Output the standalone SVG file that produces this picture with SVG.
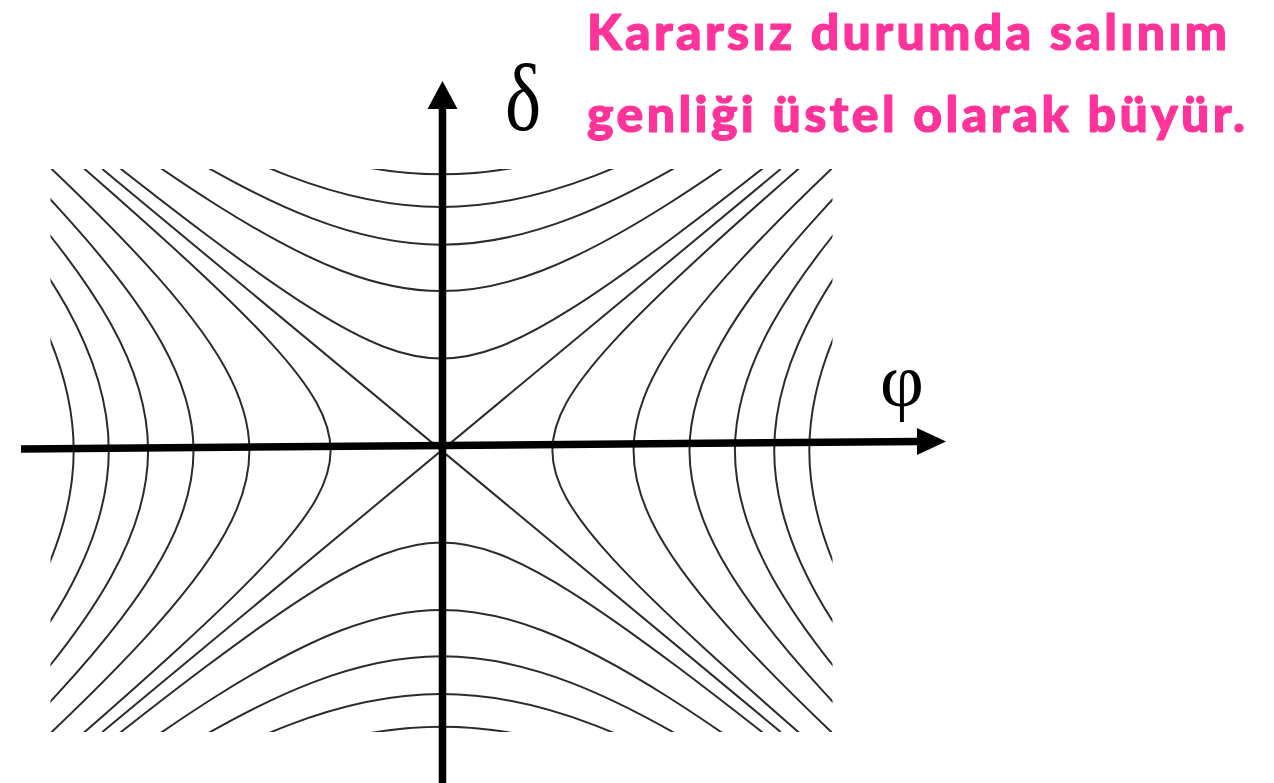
<svg xmlns="http://www.w3.org/2000/svg" xmlns:xlink="http://www.w3.org/1999/xlink" width="1274" height="783" viewBox="0 0 1274 783">
  <style>
    .crv { fill: none; stroke: #2b2b2b; stroke-width: 2; }
    .axis { stroke: #000; stroke-width: 7.5; fill: none; }
    .head { fill: #000; }
    .greek { font-family: "Liberation Serif", "DejaVu Serif", serif; fill: #000; }
    .note { font-family: "Lato", "Open Sans", sans-serif; font-weight: 900; font-size: 50px; fill: #ff3399; stroke: #ff3399; stroke-width: 1.2; stroke-linejoin: round; }
  </style>
  <defs>
    <path id="h" vector-effect="non-scaling-stroke" d="M6.132289,-6.050204 C5.123922,-5.028156 4.366673,-4.253893 3.762196,-3.626860 C3.157719,-2.999827 2.707290,-2.521347 2.352410,-2.129279 C1.997530,-1.737211 1.738948,-1.432381 1.543081,-1.175201 C1.347214,-0.918021 1.214475,-0.709033 1.127626,-0.521095 C1.040777,-0.333157 1,-0.166667 1,0 C1,0.166667 1.040777,0.333157 1.127626,0.521095 C1.214475,0.709033 1.347214,0.918021 1.543081,1.175201 C1.738948,1.432381 1.997530,1.737211 2.352410,2.129279 C2.707290,2.521347 3.157719,2.999827 3.762196,3.626860 C4.366673,4.253893 5.123922,5.028156 6.132289,6.050204"/>
    <clipPath id="box">
      <rect x="-391" y="-281.5" width="782" height="563"/>
    </clipPath>
  </defs>
  <rect width="1274" height="783" fill="#fff"/>

  <g id="phase-portrait" transform="translate(441.5,450.5)">
    <g clip-path="url(#box)" class="crv">
      <!-- horizontally opening hyperbolas -->
      <use href="#h" transform="matrix(110.9,0,0,92.05,0,0)"/>
      <use href="#h" transform="matrix(-110.9,0,0,92.05,0,0)"/>
      <use href="#h" transform="matrix(192.08,0,0,159.43,0,0)"/>
      <use href="#h" transform="matrix(-192.08,0,0,159.43,0,0)"/>
      <use href="#h" transform="matrix(247.98,0,0,205.82,0,0)"/>
      <use href="#h" transform="matrix(-247.98,0,0,205.82,0,0)"/>
      <use href="#h" transform="matrix(293.41,0,0,243.53,0,0)"/>
      <use href="#h" transform="matrix(-293.41,0,0,243.53,0,0)"/>
      <use href="#h" transform="matrix(332.7,0,0,276.14,0,0)"/>
      <use href="#h" transform="matrix(-332.7,0,0,276.14,0,0)"/>
      <use href="#h" transform="matrix(367.81,0,0,305.28,0,0)"/>
      <use href="#h" transform="matrix(-367.81,0,0,305.28,0,0)"/>
      <!-- vertically opening hyperbolas -->
      <use href="#h" transform="matrix(0,-92.05,110.9,0,0,0)"/>
      <use href="#h" transform="matrix(0,92.05,110.9,0,0,0)"/>
      <use href="#h" transform="matrix(0,-159.43,192.08,0,0,0)"/>
      <use href="#h" transform="matrix(0,159.43,192.08,0,0,0)"/>
      <use href="#h" transform="matrix(0,-205.82,247.98,0,0,0)"/>
      <use href="#h" transform="matrix(0,205.82,247.98,0,0,0)"/>
      <use href="#h" transform="matrix(0,-243.53,293.41,0,0,0)"/>
      <use href="#h" transform="matrix(0,243.53,293.41,0,0,0)"/>
      <use href="#h" transform="matrix(0,-276.14,332.7,0,0,0)"/>
      <use href="#h" transform="matrix(0,276.14,332.7,0,0,0)"/>
      <!-- asymptotes -->
      <line x1="-339.16" y1="-281.5" x2="339.16" y2="281.5"/>
      <line x1="-339.16" y1="281.5" x2="339.16" y2="-281.5"/>
    </g>
  </g>

  <g id="connectors">
    <g id="phi-axis">
      <line class="axis" x1="21" y1="449" x2="920" y2="441.5"/>
      <polygon class="head" points="946,441.5 917,428 917,455"/>
    </g>
    <g id="delta-axis">
      <line class="axis" x1="442.5" y1="783" x2="442.5" y2="104"/>
      <polygon class="head" points="442.5,81 427.5,109 457.5,109"/>
    </g>
  </g>

  <g id="axis-labels">
    <text class="greek" transform="translate(505,130) scale(0.8,1)" font-size="96">δ</text>
    <text class="greek" x="880" y="406" font-size="76">φ</text>
  </g>

  <g id="caption">
    <text class="note" x="587" y="50" textLength="640" lengthAdjust="spacing">Kararsız durumda salınım</text>
    <text class="note" x="587" y="132" textLength="658" lengthAdjust="spacing">genliği üstel olarak büyür.</text>
  </g>
</svg>
